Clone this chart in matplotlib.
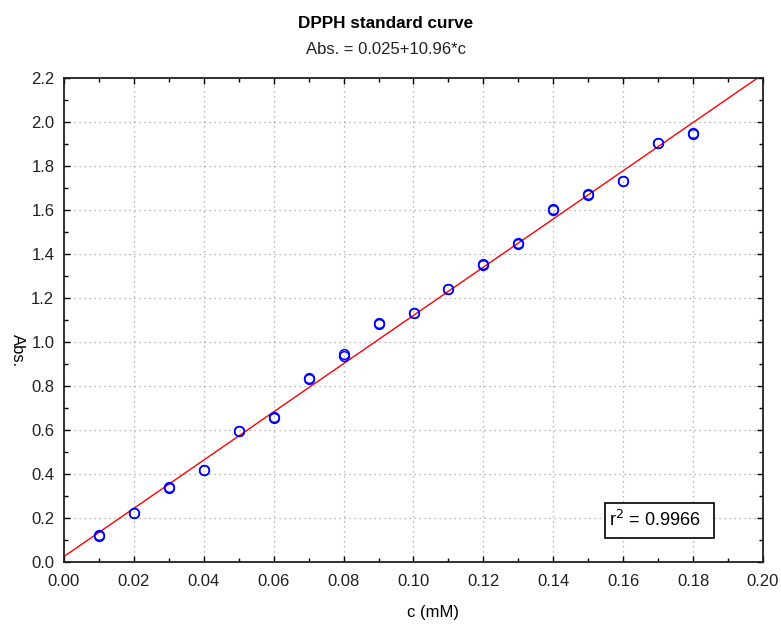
import numpy as np
import matplotlib.pyplot as plt
from matplotlib.ticker import MultipleLocator
from matplotlib.patches import Rectangle

# data (two replicates per concentration)
conc = [0.01, 0.02, 0.03, 0.04, 0.05, 0.06, 0.07, 0.08, 0.09,
        0.10, 0.11, 0.12, 0.13, 0.14, 0.15, 0.16, 0.17, 0.18]
abs_rep1 = [0.125, 0.225, 0.340, 0.420, 0.595, 0.660, 0.830, 0.935, 1.080,
            1.130, 1.240, 1.355, 1.445, 1.600, 1.670, 1.730, 1.905, 1.945]
abs_rep2 = [0.120, 0.225, 0.335, 0.420, 0.595, 0.655, 0.835, 0.945, 1.085,
            1.130, 1.240, 1.350, 1.450, 1.605, 1.675, 1.730, 1.905, 1.950]

intercept = 0.025
slope = 10.96
r2 = 0.9966

plt.rcParams['font.family'] = ['Liberation Sans', 'DejaVu Sans']

fig = plt.figure(figsize=(7.81, 6.26), dpi=100)
ax = fig.add_axes([64 / 781, 1 - 562 / 626, 699 / 781, 484 / 626])

# fitted line
xl = np.array([0.0, 0.20])
ax.plot(xl, intercept + slope * xl, color='red', lw=1, zorder=2)

ax.plot(conc, abs_rep1, 'o', mfc='none', mec='blue', ms=7, mew=1.1, zorder=3)
ax.plot(conc, abs_rep2, 'o', mfc='none', mec='blue', ms=7, mew=1.1, zorder=3)

ax.set_xlim(0, 0.20)
ax.set_ylim(0, 2.2)
ax.xaxis.set_major_locator(MultipleLocator(0.02))
ax.xaxis.set_minor_locator(MultipleLocator(0.01))
ax.yaxis.set_major_locator(MultipleLocator(0.2))
ax.yaxis.set_minor_locator(MultipleLocator(0.1))
ax.xaxis.set_major_formatter(plt.FuncFormatter(lambda v, p: f"{v:.2f}"))
ax.yaxis.set_major_formatter(plt.FuncFormatter(lambda v, p: f"{v:.1f}"))

ax.tick_params(which='both', direction='in', top=True, right=True,
               labelsize=12, color='black', labelcolor='#202020')
ax.tick_params(which='major', length=4, width=1)
ax.tick_params(which='minor', length=3, width=1)
ax.tick_params(axis='x', pad=9)
ax.tick_params(axis='y', pad=7)

ax.grid(True, which='major', linestyle=(0, (1, 3)), color='#a0a0a0', lw=0.9)
for s in ax.spines.values():
    s.set_linewidth(1.3)
    s.set_color('#202020')

ax.set_xlabel("c (mM)", fontsize=12)
ax.xaxis.set_label_coords(0.528, -0.089)
ax.set_ylabel("Abs.", fontsize=12, rotation=270, va='center')
ax.yaxis.set_label_coords(-0.067, 0.436)

fig.text(386 / 781, 1 - 24 / 626, "DPPH standard curve",
         ha='center', va='center', fontsize=12.3, fontweight='bold')
fig.text(386 / 781, 1 - 49 / 626, f"Abs. = {intercept}+{slope}*c",
         ha='center', va='center', fontsize=12, color='#202020')

# r^2 box
ax.add_patch(Rectangle((0.774, 0.0496), 0.156, 0.0723, transform=ax.transAxes,
                       fc='white', ec='black', lw=1.2, zorder=4))
ax.text(0.779, 0.0868, f"r$^2$ = {r2}", fontsize=13, ha='left', va='center',
        transform=ax.transAxes, zorder=5)

fig.savefig("out.png", dpi=100)
